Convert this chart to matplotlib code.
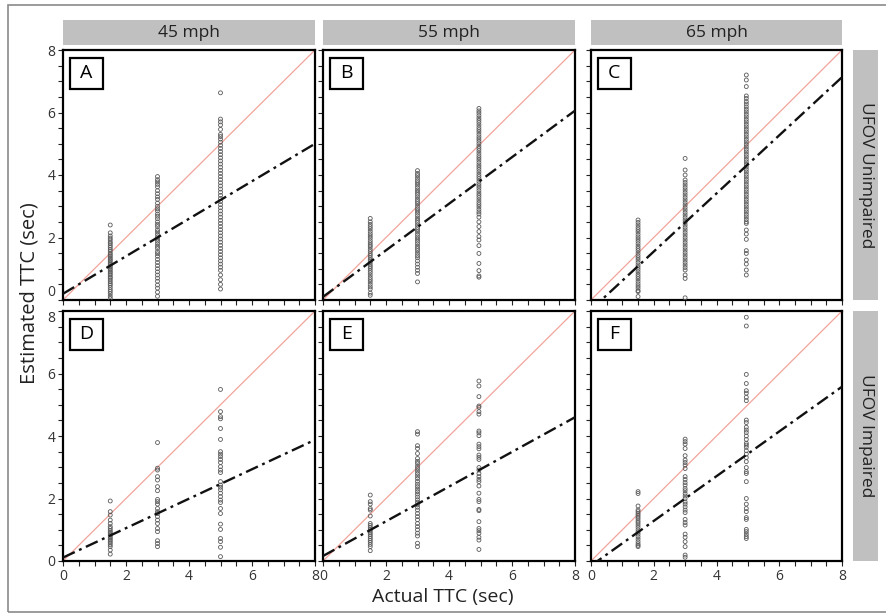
import matplotlib
matplotlib.use("Agg")
import matplotlib.pyplot as plt
from matplotlib.patches import Rectangle
from matplotlib.ticker import MultipleLocator

plt.rcParams['font.family'] = ['Open Sans', 'DejaVu Sans']

speeds = ["45 mph", "55 mph", "65 mph"]
groups = ["UFOV Unimpaired", "UFOV Impaired"]
panel_letters = [["A", "B", "C"], ["D", "E", "F"]]

actual_ttc_45 = [1.5, 3.0, 5.0]
actual_ttc_55 = [1.5, 3.0, 4.95]
actual_ttc_65 = [1.5, 3.0, 4.95]

# Panel A (45 mph, unimpaired)
A_15 = [2.4, 2.15, 2.05, 1.98, 1.92, 1.85, 1.8, 1.74, 1.68, 1.62, 1.57, 1.5, 1.45, 1.4, 1.35, 1.3, 1.26, 1.2,
        1.15, 1.1, 1.05, 1.0, 0.95, 0.9, 0.85, 0.8, 0.74, 0.7, 0.64, 0.58, 0.52, 0.47, 0.4, 0.33, 0.27, 0.2, 0.12, 0.05]
A_3 = [3.95, 3.85, 3.78, 3.7, 3.62, 3.5, 3.4, 3.3, 3.22, 3.1, 3.0, 2.92, 2.85, 2.75, 2.68, 2.6, 2.5, 2.42, 2.35,
       2.25, 2.18, 2.1, 2.02, 1.95, 1.88, 1.8, 1.72, 1.65, 1.55, 1.48, 1.4, 1.3, 1.2, 1.1, 1.0, 0.9, 0.8, 0.7, 0.6,
       0.48, 0.38, 0.25, 0.12]
A_5 = [6.63, 5.79, 5.7, 5.6, 5.46, 5.3, 5.23, 5.15, 5.05, 4.95, 4.85, 4.75, 4.65, 4.55, 4.45, 4.35, 4.25, 4.15,
       4.05, 3.95, 3.85, 3.75, 3.65, 3.55, 3.45, 3.35, 3.25, 3.15, 3.05, 2.95, 2.85, 2.75, 2.65, 2.55, 2.45, 2.35,
       2.25, 2.15, 2.05, 1.95, 1.85, 1.75, 1.65, 1.55, 1.45, 1.35, 1.25, 1.15, 1.05, 0.95, 0.8, 0.65, 0.5, 0.35]

# Panel B (55 mph, unimpaired)
B_15 = [2.61, 2.5, 2.42, 2.35, 2.28, 2.2, 2.12, 2.05, 1.98, 1.9, 1.83, 1.76, 1.7, 1.62, 1.55, 1.48, 1.42, 1.35,
        1.28, 1.22, 1.15, 1.08, 1.02, 0.95, 0.88, 0.8, 0.72, 0.65, 0.58, 0.5, 0.42, 0.35, 0.22, 0.15]
B_3 = [4.14, 4.05, 3.98, 3.9, 3.82, 3.75, 3.68, 3.6, 3.52, 3.45, 3.38, 3.3, 3.22, 3.15, 3.08, 3.0, 2.92, 2.85,
       2.78, 2.7, 2.62, 2.55, 2.48, 2.4, 2.32, 2.25, 2.18, 2.1, 2.02, 1.95, 1.88, 1.8, 1.72, 1.65, 1.58, 1.5, 1.42,
       1.35, 1.25, 1.15, 1.05, 0.95, 0.85, 0.58]
B_5 = [6.13, 6.05, 5.98, 5.9, 5.82, 5.75, 5.68, 5.6, 5.52, 5.45, 5.38, 5.3, 5.22, 5.15, 5.08, 5.0, 4.92, 4.85,
       4.78, 4.7, 4.62, 4.55, 4.48, 4.4, 4.32, 4.25, 4.18, 4.1, 4.02, 3.95, 3.88, 3.8, 3.72, 3.65, 3.58, 3.5, 3.42,
       3.35, 3.28, 3.2, 3.12, 3.05, 2.98, 2.9, 2.82, 2.75, 2.65, 2.5, 2.35, 2.19, 2.03, 1.92, 1.74, 1.49, 1.17,
       0.94, 0.77, 0.73]

# Panel C (65 mph, unimpaired)
C_15 = [2.56, 2.48, 2.4, 2.32, 2.25, 2.18, 2.1, 2.02, 1.95, 1.88, 1.8, 1.72, 1.65, 1.58, 1.5, 1.42, 1.35, 1.28,
        1.2, 1.12, 1.05, 0.98, 0.9, 0.82, 0.75, 0.68, 0.6, 0.52, 0.45, 0.38, 0.3, 0.27, 0.11]
C_3 = [4.53, 4.16, 4.0, 3.84, 3.76, 3.68, 3.6, 3.52, 3.44, 3.36, 3.28, 3.2, 3.12, 3.04, 2.96, 2.88, 2.8, 2.72,
       2.64, 2.56, 2.48, 2.4, 2.32, 2.24, 2.16, 2.08, 2.0, 1.92, 1.84, 1.76, 1.68, 1.6, 1.52, 1.44, 1.36, 1.28, 1.2,
       1.12, 1.04, 0.96, 0.8, 0.69, 0.07]
C_5 = [7.2, 7.04, 6.83, 6.53, 6.45, 6.35, 6.27, 6.18, 6.1, 6.02, 5.94, 5.86, 5.78, 5.7, 5.62, 5.54, 5.46, 5.38,
       5.3, 5.22, 5.14, 5.06, 4.98, 4.9, 4.82, 4.74, 4.66, 4.58, 4.5, 4.42, 4.34, 4.26, 4.18, 4.1, 4.02, 3.94, 3.86,
       3.78, 3.7, 3.62, 3.54, 3.46, 3.38, 3.3, 3.22, 3.14, 3.06, 2.98, 2.9, 2.82, 2.74, 2.66, 2.58, 2.5, 2.45, 2.24,
       2.11, 1.94, 1.58, 1.49, 1.28, 1.15, 0.96, 0.8]

# Panel D (45 mph, impaired)
D_15 = [1.92, 1.58, 1.47, 1.31, 1.2, 1.1, 1.04, 0.98, 0.93, 0.88, 0.83, 0.78, 0.73, 0.68, 0.63, 0.58, 0.52, 0.46,
        0.35, 0.22]
D_3 = [3.79, 2.97, 2.91, 2.7, 2.59, 2.38, 2.25, 1.97, 1.9, 1.82, 1.68, 1.58, 1.52, 1.42, 1.31, 1.2, 1.04, 0.94,
       0.65, 0.56, 0.46]
D_5 = [5.49, 4.78, 4.62, 4.55, 4.24, 3.89, 3.5, 3.42, 3.34, 3.25, 3.15, 3.02, 2.91, 2.83, 2.54, 2.43, 2.36, 2.28,
       2.17, 2.06, 1.95, 1.87, 1.68, 1.52, 1.18, 1.01, 0.72, 0.62, 0.44, 0.14]

# Panel E (55 mph, impaired)
E_15 = [2.11, 1.9, 1.82, 1.68, 1.63, 1.44, 1.2, 1.14, 1.08, 1.02, 0.96, 0.9, 0.84, 0.78, 0.72, 0.66, 0.6, 0.53,
        0.46, 0.33]
E_3 = [4.14, 4.06, 3.69, 3.6, 3.44, 3.28, 3.19, 3.12, 3.03, 2.96, 2.88, 2.8, 2.72, 2.64, 2.55, 2.46, 2.38, 2.3,
       2.22, 2.14, 2.05, 1.96, 1.88, 1.8, 1.72, 1.63, 1.52, 1.42, 1.32, 1.2, 1.1, 1.0, 0.89, 0.8, 0.57, 0.46]
E_5 = [5.76, 5.6, 5.26, 4.96, 4.92, 4.78, 4.7, 4.16, 4.1, 4.01, 3.74, 3.66, 3.59, 3.39, 3.32, 3.25, 2.99, 2.91,
       2.8, 2.7, 2.61, 2.54, 2.4, 2.17, 1.97, 1.9, 1.65, 1.61, 1.26, 1.04, 0.97, 0.89, 0.76, 0.67, 0.37]

# Panel F (65 mph, impaired)
F_15 = [2.22, 2.16, 1.76, 1.63, 1.58, 1.52, 1.47, 1.41, 1.35, 1.28, 1.22, 1.15, 1.08, 1.0, 0.93, 0.86, 0.78,
        0.7, 0.62, 0.55, 0.5, 0.46]
F_3 = [3.9, 3.82, 3.74, 3.6, 3.37, 3.23, 3.15, 3.07, 2.96, 2.7, 2.61, 2.51, 2.43, 2.32, 2.25, 2.16, 2.08, 2.0,
       1.89, 1.82, 1.73, 1.63, 1.55, 1.33, 1.23, 1.15, 0.86, 0.76, 0.62, 0.46, 0.19, 0.12]
F_5 = [7.8, 7.52, 5.97, 5.68, 5.45, 5.37, 5.24, 5.13, 4.51, 4.43, 4.28, 4.19, 4.11, 4.0, 3.89, 3.77, 3.71, 3.64,
       3.53, 3.42, 3.31, 3.18, 2.99, 2.86, 2.8, 2.54, 2.0, 1.82, 1.68, 1.58, 1.39, 1.33, 1.01, 0.94, 0.86, 0.78,
       0.72]

estimates = [[[A_15, A_3, A_5], [B_15, B_3, B_5], [C_15, C_3, C_5]],
             [[D_15, D_3, D_5], [E_15, E_3, E_5], [F_15, F_3, F_5]]]
actual_by_speed = [actual_ttc_45, actual_ttc_55, actual_ttc_65]

# Fitted regression lines (intercept, slope) per panel
fit_intercept = [[0.2, 0.1, -0.31], [0.11, 0.16, -0.15]]
fit_slope = [[0.6, 0.745, 0.93], [0.471, 0.555, 0.716]]

W, H = 886, 616
fig = plt.figure(figsize=(W / 100, H / 100), dpi=100)

# Outer frame
fig.add_artist(Rectangle((8 / W, 1 - 612 / H), (W + 10) / W, (612 - 5) / H, transform=fig.transFigure,
                         fill=False, edgecolor="#8a8a8a", lw=1.2))

col_left = [63, 323, 591]
col_w = [252, 252, 251]
row_top = [50, 311]
row_h = 250

def fx(px):
    return px / W

def fy(py):
    return 1 - py / H

ident = [0, 8]
for r in range(2):
    for c in range(3):
        ax = fig.add_axes([fx(col_left[c]), fy(row_top[r] + row_h), col_w[c] / W, row_h / H])
        ax.set_xlim(0, 8)
        ax.set_ylim(0, 8)
        ax.plot(ident, ident, color="#f2a49b", lw=0.9, zorder=2)
        for k, xv in enumerate(actual_by_speed[c]):
            ys = estimates[r][c][k]
            ax.scatter([xv] * len(ys), ys, s=8, facecolors="none", edgecolors="#5a5a5a",
                       linewidths=0.6, zorder=3)
        xl = [0, 8]
        yl = [fit_intercept[r][c] + fit_slope[r][c] * v for v in xl]
        ax.plot(xl, yl, color="#111111", lw=1.7, linestyle=(0, (5.5, 2, 1.2, 2)), zorder=4)
        for s in ax.spines.values():
            s.set_linewidth(1.6)
            s.set_color("black")
        ax.xaxis.set_major_locator(MultipleLocator(2))
        ax.yaxis.set_major_locator(MultipleLocator(2))
        ax.xaxis.set_minor_locator(MultipleLocator(0.5))
        ax.yaxis.set_minor_locator(MultipleLocator(0.5))
        ax.tick_params(which="both", direction="out", length=3.5, width=0.8, color="#222222",
                       labelsize=10, labelcolor="#333333", pad=2)
        if r == 0:
            ax.tick_params(labelbottom=False)
        if c != 0:
            ax.tick_params(labelleft=False)
        else:
            fig.canvas.draw()
            labels = ax.get_yticklabels()
            for lab in labels:
                if r == 0 and lab.get_text() == "0":
                    lab.set_verticalalignment("bottom")
                if r == 1 and lab.get_text() == "8":
                    lab.set_verticalalignment("top")
        # panel letter box
        ax.add_patch(Rectangle((0.028, 0.845), 0.13, 0.125, transform=ax.transAxes, fill=False,
                               edgecolor="black", lw=1.6, zorder=5))
        ax.text(0.093, 0.907, panel_letters[r][c], transform=ax.transAxes, ha="center", va="center",
                fontsize=14, zorder=6)

# top strips
for c in range(3):
    sax = fig.add_axes([fx(col_left[c]), fy(45), col_w[c] / W, 25 / H])
    sax.set_facecolor("#c0c0c0")
    sax.set_xticks([])
    sax.set_yticks([])
    for s in sax.spines.values():
        s.set_visible(False)
    sax.text(0.5, 0.47, speeds[c], ha="center", va="center", fontsize=12.5, color="#222222",
             transform=sax.transAxes)

# right strips
for r in range(2):
    rax = fig.add_axes([fx(853), fy(row_top[r] + row_h), 25 / W, row_h / H])
    rax.set_facecolor("#c0c0c0")
    rax.set_xticks([])
    rax.set_yticks([])
    for s in rax.spines.values():
        s.set_visible(False)
    rax.text(0.5, 0.5, groups[r], ha="center", va="center", rotation=270, fontsize=12.5,
             color="#222222", transform=rax.transAxes)

fig.text(fx(443), fy(597), "Actual TTC (sec)", ha="center", va="center", fontsize=14, color="#222222")
fig.text(fx(30), fy(293), "Estimated TTC (sec)", ha="center", va="center", rotation=90, fontsize=14.5,
         color="#222222")

fig.savefig("out.png", dpi=100)
